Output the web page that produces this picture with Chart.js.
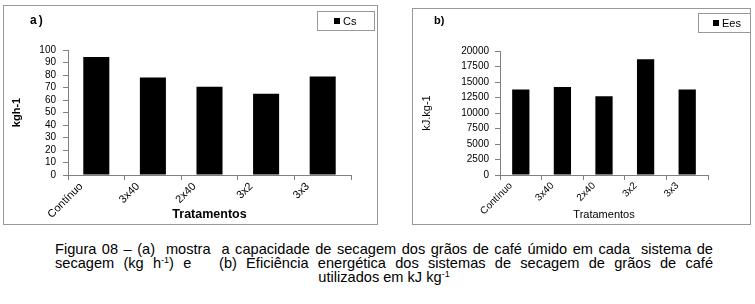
<!DOCTYPE html>
<html>
<head>
<meta charset="utf-8">
<script src="https://cdn.jsdelivr.net/npm/chart.js@4.4.0/dist/chart.umd.min.js"></script>
<style>
  body { margin: 0; width: 755px; height: 304px; background: #fff; position: relative; overflow: hidden;
         font-family: Arial, "Liberation Sans", sans-serif; color: #000; }
  .frame { position: absolute; border: 1px solid #999; box-sizing: border-box; }
  .wrap { position: absolute; top: 0; height: 230px; }
  .tag { position: absolute; font-weight: bold; font-size: 12px; letter-spacing: 2px; }
  .legend { position: absolute; border: 1px solid #999; box-sizing: border-box; font-size: 11px;
            display: flex; align-items: center; background: #fff; }
  .legend i { display: inline-block; width: 6px; height: 6px; background: #000; margin-right: 3px; }
  .caption { position: absolute; left: 55px; top: 242px; width: 658px; font-size: 14.6px; line-height: 14px; }
  .caption div { text-align: justify; text-align-last: justify; white-space: nowrap; }
  .caption div.last { text-align: center; text-align-last: center; }
  sup { font-size: 9px; line-height: 0; vertical-align: 5px; }
</style>
</head>
<body>
<div class="frame" style="left:3px;top:5px;width:375px;height:220px"></div>
<div class="frame" style="left:412px;top:8px;width:339px;height:217px"></div>

<div class="wrap" style="left:0;width:380px"><canvas id="chartA" width="380" height="230"></canvas></div>
<div class="wrap" style="left:380px;width:375px"><canvas id="chartB" width="375" height="230"></canvas></div>

<div class="tag" style="left:30px;top:13px">a)</div>
<div class="tag" style="left:434px;top:14px;font-size:11px;letter-spacing:0">b)</div>
<div class="legend" style="left:317px;top:11px;width:58px;height:20px;padding-left:16px"><i></i>Cs</div>
<div class="legend" style="left:698px;top:13px;width:53px;height:20px;padding-left:14px"><i></i>Ees</div>

<div class="caption">
  <div>Figura 08 – (a)&nbsp; mostra&nbsp; a capacidade de secagem dos grãos de café úmido em cada&nbsp; sistema de</div>
  <div>secagem (kg h<sup>-1</sup>) e &nbsp; (b) Eficiência energética dos sistemas de secagem de grãos de café</div>
  <div class="last">utilizados em kJ kg<sup>-1</sup></div>
</div>

<script>
// Tratamentos (eixo x)
const tratamentos = ['Contínuo', '3x40', '2x40', '3x2', '3x3'];
// a) capacidade de secagem, kg h-1
const capacidade = [94.4, 78.1, 70.7, 65.1, 78.9];
// b) eficiência energética, kJ kg-1
const eficiencia = [13800, 14200, 12700, 18650, 13800];

const cinza = '#808080';

function opcoes(cfg) {
  return {
    responsive: false,
    animation: false,
    layout: { padding: cfg.padding },
    plugins: { legend: { display: false }, tooltip: { enabled: false } },
    scales: {
      x: {
        grid: { offset: true, drawOnChartArea: false, tickLength: 5, color: cinza },
        border: { color: cinza },
        ticks: { minRotation: 45, maxRotation: 45, labelOffset: cfg.labelOffset, padding: 0,
                 autoSkip: false, color: '#000', font: { family: 'Arial', size: cfg.catSize } },
        title: { display: true, text: 'Tratamentos', color: '#000',
                 font: { family: 'Arial', size: cfg.xTitleSize, weight: cfg.titleWeight },
                 padding: { top: 0, bottom: 8 } },
        afterFit: s => { s.height = 55; }
      },
      y: {
        min: 0, max: cfg.max,
        grid: { drawOnChartArea: false, tickLength: 5, color: cinza },
        border: { color: cinza },
        ticks: { stepSize: cfg.step, autoSkip: false, padding: cfg.tickPad, color: '#000',
                 font: { family: 'Arial', size: 10 }, callback: v => String(v) },
        title: { display: true, text: cfg.yTitle, color: '#000',
                 font: { family: 'Arial', size: 11, weight: cfg.titleWeight },
                 padding: { top: cfg.yTitlePad, bottom: 0 } },
        afterFit: s => { s.width = cfg.yWidth; }
      }
    }
  };
}

new Chart(document.getElementById('chartA'), {
  type: 'bar',
  data: {
    labels: tratamentos,
    datasets: [{ label: 'Cs', data: capacidade, backgroundColor: '#000',
                 barPercentage: 0.46, categoryPercentage: 1 }]
  },
  options: opcoes({ padding: { left: 0, right: 29, top: 50, bottom: 0 }, labelOffset: -15, catSize: 11,
                    max: 100, step: 10, tickPad: 7, yTitle: 'kgh-1', yTitlePad: 10,
                    yWidth: 68, xTitleSize: 12.5, titleWeight: 'bold' })
});

new Chart(document.getElementById('chartB'), {
  type: 'bar',
  data: {
    labels: tratamentos,
    datasets: [{ label: 'Ees', data: eficiencia, backgroundColor: '#000',
                 barPercentage: 0.415, categoryPercentage: 1 }]
  },
  options: opcoes({ padding: { left: 30, right: 47, top: 51, bottom: 0 }, labelOffset: -10, catSize: 10,
                    max: 20000, step: 2500, tickPad: 6, yTitle: 'kJ.kg-1', yTitlePad: 10.4,
                    yWidth: 90, xTitleSize: 11, titleWeight: 'normal' })
});
</script>
</body>
</html>
